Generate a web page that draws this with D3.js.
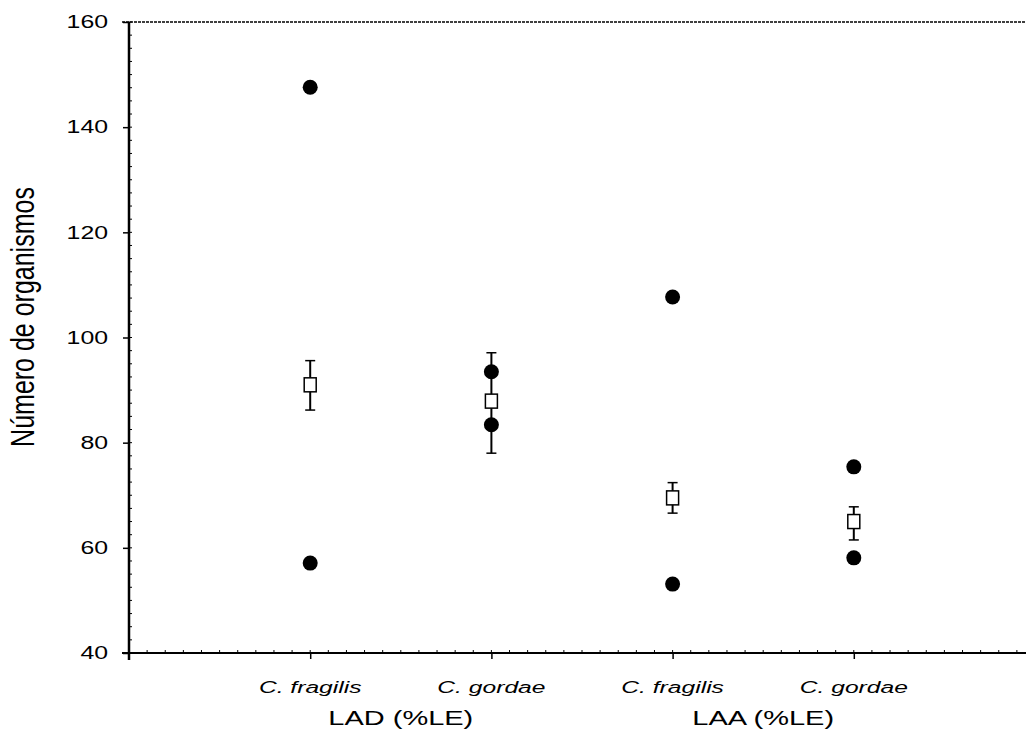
<!DOCTYPE html>
<html>
<head>
<meta charset="utf-8">
<script src="https://cdn.jsdelivr.net/npm/d3@7"></script>
<style>
  body { margin: 0; background: #fff; }
  text { font-family: "Liberation Sans", Arial, sans-serif; fill: #000; }
</style>
</head>
<body>
<div id="chart"></div>
<script>
// data
var species = ["C. fragilis", "C. gordae", "C. fragilis", "C. gordae"];
var groups = ["LAD (%LE)", "LAA (%LE)"];
var groupOf = [0, 0, 1, 1];
var pointsHigh = [147.6, 93.5, 107.7, 75.4];
var pointsLow = [57.1, 83.4, 53.1, 58.1];
var means = [91, 87.9, 69.5, 65];
var errHigh = [95.6, 97.1, 72.4, 67.8];
var errLow = [86.2, 78, 66.6, 61.5];
var yTicks = [40, 60, 80, 100, 120, 140, 160];

var W = 1026, H = 743;
var sx = 1.38; // text in the original is stretched sideways

var svg = d3.select("#chart").append("svg")
  .attr("width", W).attr("height", H);

var x = d3.scaleLinear().domain([0, 5]).range([129, 1035]);
var y = d3.scaleLinear().domain([40, 160]).range([653, 22]);

// top frame line (dotted in the scan)
svg.append("line")
  .attr("x1", 122).attr("x2", W).attr("y1", y(160)).attr("y2", y(160))
  .attr("stroke", "#000").attr("stroke-width", 1.5)
  .attr("stroke-dasharray", "3,1");

// minor ticks
var yMinor = d3.range(40, 160.1, 2.5);
svg.append("g").selectAll("line").data(yMinor).enter().append("line")
  .attr("x1", x(0)).attr("x2", x(0) + 3)
  .attr("y1", function(d) { return y(d); }).attr("y2", function(d) { return y(d); })
  .attr("stroke", "#000").attr("stroke-width", 1);
var xMinor = d3.range(0.1, 5, 0.1);
svg.append("g").selectAll("line").data(xMinor).enter().append("line")
  .attr("x1", function(d) { return x(d); }).attr("x2", function(d) { return x(d); })
  .attr("y1", y(40)).attr("y2", y(40) - 3)
  .attr("stroke", "#000").attr("stroke-width", 1);

// y axis
var yAxis = svg.append("g")
  .attr("transform", "translate(" + x(0) + ",0)")
  .call(d3.axisLeft(y).tickValues(yTicks).tickSize(6).tickSizeOuter(0));
yAxis.select(".domain").attr("stroke-width", 2.5).attr("d", "M0,22V660");
yAxis.selectAll(".tick line").attr("stroke-width", 1.5);
yAxis.selectAll(".tick text")
  .attr("x", -21 / sx)
  .attr("transform", "scale(" + sx + ",1)")
  .style("font-size", "18px")
  .style("font-family", "Liberation Sans, Arial, sans-serif")
  .attr("fill", "#000");

// x axis
var xAxis = svg.append("g")
  .attr("transform", "translate(0," + y(40) + ")")
  .call(d3.axisBottom(x).tickValues([1, 2, 3, 4]).tickSize(6).tickSizeOuter(0).tickFormat(""));
xAxis.select(".domain").attr("stroke-width", 2).attr("d", "M122,0H" + W);
xAxis.selectAll(".tick line").attr("stroke-width", 1.5);

// category labels
svg.append("g").selectAll("text").data(species).enter().append("text")
  .attr("transform", function(d, i) { return "translate(" + x(i + 1) + ",693) scale(1.45,1)"; })
  .attr("text-anchor", "middle")
  .style("font-size", "17px")
  .style("font-style", "italic")
  .text(function(d) { return d; });

// group labels
svg.append("g").selectAll("text").data(groups).enter().append("text")
  .attr("transform", function(d, i) {
    var cx = (x(2 * i + 1) + x(2 * i + 2)) / 2;
    return "translate(" + cx + ",725) scale(" + sx + ",1)";
  })
  .attr("text-anchor", "middle")
  .style("font-size", "21px")
  .text(function(d) { return d; });

// y label
svg.append("text")
  .attr("transform", "translate(34,317) scale(1.3,1) rotate(-90)")
  .attr("text-anchor", "middle")
  .style("font-size", "25px")
  .text("Número de organismos");

// error bars + mean squares
var idx = d3.range(species.length);
var eb = svg.append("g").selectAll("g").data(idx).enter().append("g");
eb.append("line")
  .attr("x1", function(i) { return x(i + 1); }).attr("x2", function(i) { return x(i + 1); })
  .attr("y1", function(i) { return y(errHigh[i]); }).attr("y2", function(i) { return y(errLow[i]); })
  .attr("stroke", "#000").attr("stroke-width", 2);
eb.append("line")
  .attr("x1", function(i) { return x(i + 1) - 5; }).attr("x2", function(i) { return x(i + 1) + 5; })
  .attr("y1", function(i) { return y(errHigh[i]); }).attr("y2", function(i) { return y(errHigh[i]); })
  .attr("stroke", "#000").attr("stroke-width", 1.5);
eb.append("line")
  .attr("x1", function(i) { return x(i + 1) - 5; }).attr("x2", function(i) { return x(i + 1) + 5; })
  .attr("y1", function(i) { return y(errLow[i]); }).attr("y2", function(i) { return y(errLow[i]); })
  .attr("stroke", "#000").attr("stroke-width", 1.5);

// filled points
var pts = [];
idx.forEach(function(i) {
  pts.push({ i: i, v: pointsHigh[i] });
  pts.push({ i: i, v: pointsLow[i] });
});
svg.append("g").selectAll("circle").data(pts).enter().append("circle")
  .attr("cx", function(d) { return x(d.i + 1); })
  .attr("cy", function(d) { return y(d.v); })
  .attr("r", 7.5)
  .attr("fill", "#000");

eb.append("rect")
  .attr("x", function(i) { return x(i + 1) - 6; })
  .attr("y", function(i) { return y(means[i]) - 7; })
  .attr("width", 12).attr("height", 14)
  .attr("fill", "#fff").attr("stroke", "#000").attr("stroke-width", 1.5);
</script>
</body>
</html>
